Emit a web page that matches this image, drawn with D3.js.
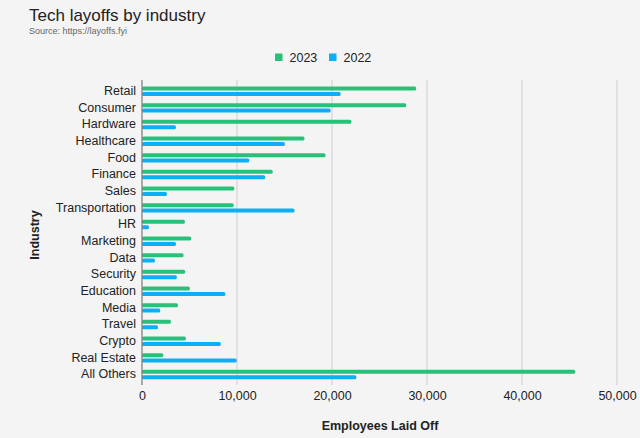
<!DOCTYPE html>
<html>
<head>
<meta charset="utf-8">
<script src="https://cdn.jsdelivr.net/npm/d3@7"></script>
<style>
  body { margin: 0; background: #f4f4f4; }
  svg { font-family: Arial, "Liberation Sans", Helvetica, sans-serif; }
</style>
</head>
<body>
<svg id="chart" width="640" height="438"></svg>
<script>
const categories = ["Retail", "Consumer", "Hardware", "Healthcare", "Food", "Finance", "Sales",
  "Transportation", "HR", "Marketing", "Data", "Security", "Education", "Media", "Travel",
  "Crypto", "Real Estate", "All Others"];
const values2023 = [28860, 27810, 22030, 17100, 19310, 13750, 9720, 9650, 4510, 5170, 4370,
  4540, 5040, 3780, 3040, 4620, 2240, 45600];
const values2022 = [20910, 19860, 3570, 15040, 11290, 12970, 2620, 16050, 730, 3570, 1360,
  3670, 8770, 1920, 1680, 8290, 9970, 22560];
const seriesNames = ["2023", "2022"];
const tickValues = [0, 10000, 20000, 30000, 40000, 50000];

const colors = { "2023": "#28c17a", "2022": "#0aaff6" };

const svg = d3.select("#chart");
const margin = { top: 80, right: 23, bottom: 53, left: 142 };
const width = 640 - margin.left - margin.right;
const height = 438 - margin.top - margin.bottom;

svg.append("rect").attr("width", 640).attr("height", 438).attr("fill", "#f4f4f4");

// title
svg.append("text").attr("x", 29).attr("y", 21)
  .style("font-size", "17px").attr("fill", "#222").text("Tech layoffs by industry");
svg.append("text").attr("x", 29).attr("y", 34)
  .style("font-size", "9px").attr("fill", "#666").text("Source: https://layoffs.fyi");

// legend
const legend = svg.append("g");
[[275, "2023"], [329, "2022"]].forEach(([lx, name]) => {
  legend.append("rect").attr("x", lx).attr("y", 53.5).attr("width", 7.5).attr("height", 7.5)
    .attr("fill", colors[name]);
  legend.append("text").attr("x", lx + 14.5).attr("y", 61.5)
    .style("font-size", "12.5px").attr("fill", "#222").text(name);
});

const x = d3.scaleLinear().domain([0, 50000]).range([0, 475]);
const y = d3.scaleBand().domain(categories).range([3, 303]);

const g = svg.append("g").attr("transform", `translate(${margin.left},${margin.top})`);

// gridlines
g.selectAll(".grid").data(tickValues.slice(1)).enter().append("line")
  .attr("x1", d => x(d)).attr("x2", d => x(d))
  .attr("y1", 0).attr("y2", height)
  .attr("stroke", "#cfcfcf").attr("stroke-width", 1);

// bars
const barH = 4;
categories.forEach((c, i) => {
  const cy = y(c) + y.bandwidth() / 2;
  g.append("rect").attr("x", 0).attr("y", cy - 4.8)
    .attr("width", x(values2023[i])).attr("height", barH).attr("rx", 1.5)
    .attr("fill", colors["2023"]);
  g.append("rect").attr("x", 0).attr("y", cy + 0.6)
    .attr("width", x(values2022[i])).attr("height", barH).attr("rx", 1.5)
    .attr("fill", colors["2022"]);
});

// y axis line
g.append("line").attr("x1", 0).attr("x2", 0).attr("y1", 0).attr("y2", height)
  .attr("stroke", "#777").attr("stroke-width", 1.2);

// y axis labels
g.append("g").call(d3.axisLeft(y).tickSize(0).tickPadding(6))
  .call(a => a.select(".domain").remove())
  .selectAll("text").style("font-size", "12.5px").attr("fill", "#222")
  .attr("font-family", null).attr("dy", "0.28em");

// x axis labels
g.append("g").attr("transform", `translate(0,${height})`)
  .call(d3.axisBottom(x).tickValues(tickValues).tickSize(0).tickPadding(6).tickFormat(d3.format(",")))
  .call(a => a.select(".domain").remove())
  .selectAll("text").style("font-size", "12.5px").attr("fill", "#222")
  .attr("font-family", null);

// axis titles
svg.append("text").attr("x", 380).attr("y", 430).attr("text-anchor", "middle")
  .style("font-size", "12.5px").style("font-weight", "bold").attr("fill", "#222")
  .text("Employees Laid Off");
svg.append("text").attr("transform", "translate(39,235) rotate(-90)").attr("text-anchor", "middle")
  .style("font-size", "12.5px").style("font-weight", "bold").attr("fill", "#222")
  .text("Industry");
</script>
</body>
</html>
